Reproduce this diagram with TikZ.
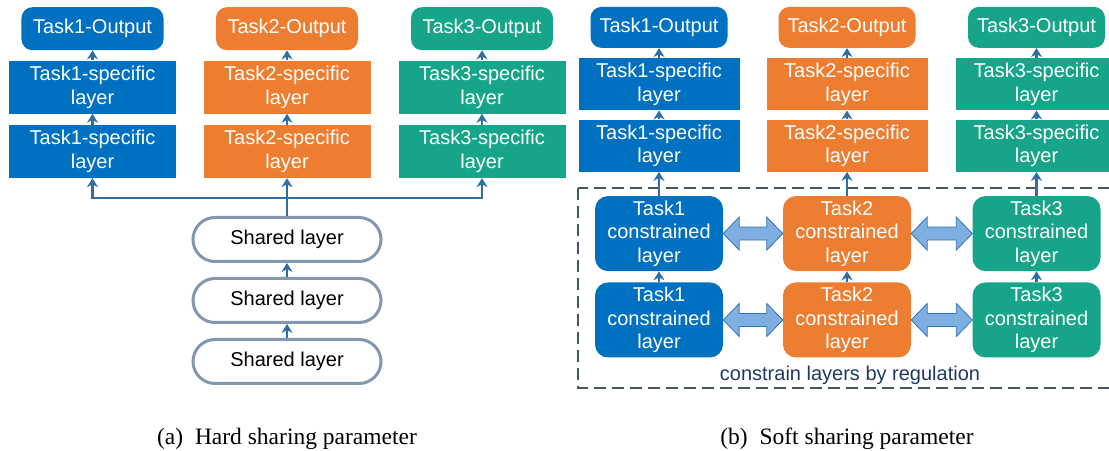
\documentclass[tikz,border=0pt]{standalone}
\usepackage{fontspec}
\setmainfont{Liberation Serif}
\setsansfont{Liberation Sans}
\usepackage{tikz}
\usetikzlibrary{positioning,arrows.meta,calc}
\definecolor{taskblue}{HTML}{0070C0}
\definecolor{taskorange}{HTML}{ED7D31}
\definecolor{taskteal}{HTML}{17A58A}
\definecolor{linkblue}{HTML}{2E6EA6}
\definecolor{sharedgray}{HTML}{8497B0}
\definecolor{dashgray}{HTML}{44546A}
\definecolor{fatfill}{HTML}{7FAEE0}
\definecolor{fatline}{HTML}{2E75B6}
\definecolor{regnavy}{HTML}{1F3864}
\newcommand{\tskfont}{\sffamily\fontsize{20bp}{23.5bp}\selectfont}
\newcommand{\subcapfont}{\rmfamily\fontsize{23.5bp}{26bp}\selectfont}
\tikzset{out node/.style={rounded corners=11bp,text=white,minimum width=137bp,minimum height=41bp,inner sep=0pt,font=\tskfont},
    spec node/.style={text=white,minimum width=161bp,minimum height=52bp,inner sep=0pt,align=center,font=\tskfont},
    cons node/.style={rounded corners=13bp,text=white,minimum width=128bp,minimum height=75bp,inner sep=0pt,align=center,font=\tskfont},
    shared node/.style={draw=sharedgray,line width=3bp,rounded corners=22bp,fill=white,minimum width=188bp,minimum height=44bp,inner sep=0pt,font=\tskfont},
    link/.style={draw=linkblue,line width=2.2bp,-{Stealth[length=9bp,width=11bp]}},
    fat arrow/.style={draw=fatline,fill=fatfill,line width=0.8bp,line join=miter},
    subcap/.style={font=\subcapfont},}

\begin{document}
\begin{tikzpicture}[x=1bp,y=1bp]
        \useasboundingbox (0,0) rectangle (1109,451);
        % (a) hard sharing
        \node[shared node] (sh3) at (287,89.5) {Shared layer};
        \node[shared node] [above = 14bp of sh3] (sh2) {Shared layer};
        \node[shared node] [above = 14bp of sh2] (sh1) {Shared layer};
        \coordinate (hub) at (287,253);
        \node[spec node, fill=taskblue, minimum width=167bp, minimum height=53bp] (a1s1) at (92.5,299.5) {Task1-specific\\layer};
        \node[spec node, fill=taskorange, minimum width=167bp, minimum height=53bp] (a2s1) at (287,299.5) {Task2-specific\\layer};
        \node[spec node, fill=taskteal, minimum width=167bp, minimum height=53bp] (a3s1) at (482,299.5) {Task3-specific\\layer};
        \node[spec node, fill=taskblue, minimum width=167bp, minimum height=53bp] [above = 11bp of a1s1] (a1s2) {Task1-specific\\layer};
        \node[spec node, fill=taskorange, minimum width=167bp, minimum height=53bp] [above = 11bp of a2s1] (a2s2) {Task2-specific\\layer};
        \node[spec node, fill=taskteal, minimum width=167bp, minimum height=53bp] [above = 11bp of a3s1] (a3s2) {Task3-specific\\layer};
        \node[out node, fill=taskblue, minimum width=142bp, minimum height=43bp] [above = 10bp of a1s2] (a1o) {Task1-Output};
        \node[out node, fill=taskorange, minimum width=142bp, minimum height=43bp] [above = 10bp of a2s2] (a2o) {Task2-Output};
        \node[out node, fill=taskteal, minimum width=142bp, minimum height=43bp] [above = 10bp of a3s2] (a3o) {Task3-Output};
        % (b) soft sharing
        \node[cons node, fill=taskblue] (b1c1) at (659,131) {Task1\\constrained\\layer};
        \node[cons node, fill=taskorange] (b2c1) at (847,131) {Task2\\constrained\\layer};
        \node[cons node, fill=taskteal] (b3c1) at (1036.5,131) {Task3\\constrained\\layer};
        \node[cons node, fill=taskblue] [above = 11bp of b1c1] (b1c2) {Task1\\constrained\\layer};
        \node[cons node, fill=taskorange] [above = 11bp of b2c1] (b2c2) {Task2\\constrained\\layer};
        \node[cons node, fill=taskteal] [above = 11bp of b3c1] (b3c2) {Task3\\constrained\\layer};
        \node[spec node, fill=taskblue] [above = 24bp of b1c2] (b1s1) {Task1-specific\\layer};
        \node[spec node, fill=taskorange] [above = 24bp of b2c2] (b2s1) {Task2-specific\\layer};
        \node[spec node, fill=taskteal] [above = 24bp of b3c2] (b3s1) {Task3-specific\\layer};
        \node[spec node, fill=taskblue] [above = 9bp of b1s1] (b1s2) {Task1-specific\\layer};
        \node[spec node, fill=taskorange] [above = 9bp of b2s1] (b2s2) {Task2-specific\\layer};
        \node[spec node, fill=taskteal] [above = 9bp of b3s1] (b3s2) {Task3-specific\\layer};
        \node[out node, fill=taskblue] [above = 10bp of b1s2] (b1o) {Task1-Output};
        \node[out node, fill=taskorange] [above = 10bp of b2s2] (b2o) {Task2-Output};
        \node[out node, fill=taskteal] [above = 10bp of b3s2] (b3o) {Task3-Output};
        \draw[dashgray, line width=2bp, dash pattern=on 12bp off 6bp] (578,263) rectangle (1112,63);
        \node[font=\tskfont, text=regnavy] (reg) at (850,76) {constrain layers by regulation};
        % Paths
        \draw[link] (sh3) -- (sh2);
        \draw[link] (sh2) -- (sh1);
        \draw[link] (sh1.north) -- (a2s1.south);
        \draw[link] (hub) -| (a1s1.south);
        \draw[link] (hub) -| (a3s1.south);
        \foreach \c in {a1,a2,a3} {
            \draw[link] (\c s1) -- (\c s2);
            \draw[link] (\c s2) -- (\c o);
        }
        \foreach \c in {b1,b2,b3} {
            \draw[link] (\c c1) -- (\c c2);
            \draw[link] (\c c2) -- (\c s1);
            \draw[link] (\c s1) -- (\c s2);
            \draw[link] (\c s2) -- (\c o);
        }
        \foreach \a/\b in {b1c1/b2c1,b2c1/b3c1,b1c2/b2c2,b2c2/b3c2}
            \draw[fat arrow] (\a.east) -- ++(16,16.5) -- ++(0,-10) -- ($(\b.west)+(-16,6.5)$) -- ++(0,10) -- (\b.west)
                -- ++(-16,-16.5) -- ++(0,10) -- ($(\a.east)+(16,-6.5)$) -- ++(0,-10) -- cycle;
        % captions
        \node[subcap] (capa) at (287,12) {(a)\hspace{.5em}Hard sharing parameter};
        \node[subcap] (capb) at (847,12) {(b)\hspace{.5em}Soft sharing parameter};
    \end{tikzpicture}
\end{document}
